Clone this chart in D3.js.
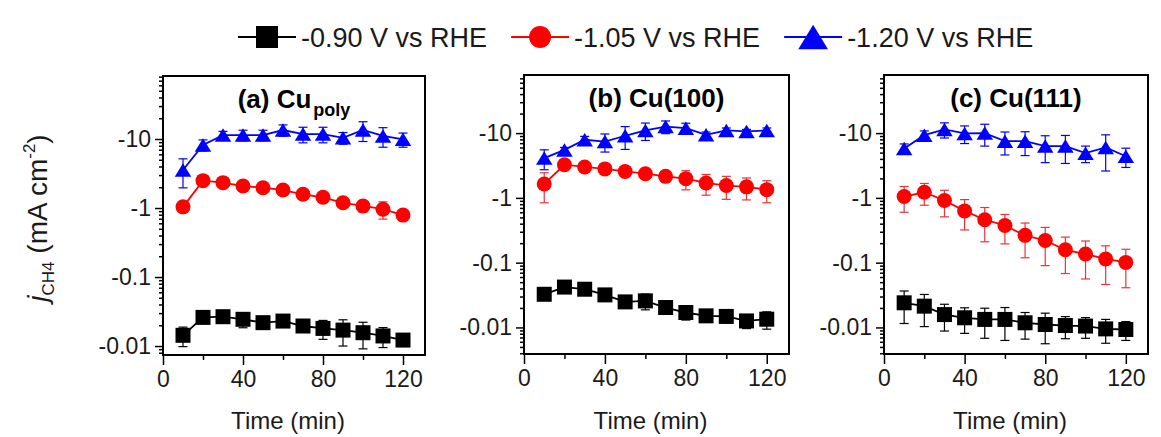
<!DOCTYPE html>
<html>
<head>
<meta charset="utf-8">
<script src="https://cdn.jsdelivr.net/npm/d3@7"></script>
<style>
  body { margin: 0; background: #fff; }
  svg { font-family: "Liberation Sans", Arial, sans-serif; }
</style>
</head>
<body>
<div id="chart"></div>
<script>
// time points (min)
const times = [10, 20, 30, 40, 50, 60, 70, 80, 90, 100, 110, 120];
const potentials = ["-0.90 V vs RHE", "-1.05 V vs RHE", "-1.20 V vs RHE"];
const yTickValues = [0.01, 0.1, 1, 10];
const yTickLabels = ["-0.01", "-0.1", "-1", "-10"];
const xTickValues = [0, 40, 80, 120];

// |j_CH4| in mA cm^-2, and error bars
const polyV090 = [0.0143, 0.026, 0.0266, 0.0244, 0.0218, 0.023, 0.0195, 0.018, 0.017, 0.0156, 0.014, 0.0122];
const polyE090 = [0.0045, 0.002, 0.005, 0.006, 0.003, 0.004, 0.002, 0.0055, 0.007, 0.0065, 0.0045, 0.001];
const polyV105 = [1.04, 2.49, 2.33, 2.08, 1.97, 1.82, 1.58, 1.43, 1.19, 1.07, 0.96, 0.79];
const polyE105 = [0.05, 0.1, 0.1, 0.1, 0.1, 0.1, 0.15, 0.15, 0.15, 0.2, 0.27, 0.05];
const polyV120 = [3.56, 8.2, 11.4, 11.4, 11.4, 13.5, 11.8, 11.8, 10.4, 13.5, 11.1, 9.9];
const polyE120 = [1.6, 1.5, 1.5, 2, 2, 2.5, 3, 3, 2, 4.3, 3.5, 2.3];

const c100V090 = [0.0325, 0.042, 0.0389, 0.0318, 0.0248, 0.0257, 0.0203, 0.017, 0.0151, 0.0148, 0.0126, 0.0134];
const c100E090 = [0.005, 0.003, 0.003, 0.004, 0.004, 0.007, 0.003, 0.004, 0.003, 0.003, 0.003, 0.004];
const c100V105 = [1.64, 3.25, 3.0, 2.8, 2.56, 2.36, 2.15, 1.98, 1.70, 1.55, 1.48, 1.34];
const c100E105 = [0.8, 0.2, 0.15, 0.2, 0.2, 0.2, 0.4, 0.65, 0.6, 0.6, 0.55, 0.5];
const c100V120 = [4.12, 5.5, 7.9, 7.4, 9.1, 11, 12.6, 11.9, 9.4, 11, 10.6, 11];
const c100E120 = [1.4, 0.5, 1, 2.3, 3.5, 3.3, 2.8, 2.3, 1, 1, 0.8, 1];

const c111V090 = [0.024, 0.0213, 0.0158, 0.0141, 0.0133, 0.0133, 0.0118, 0.0111, 0.0107, 0.0105, 0.0095, 0.0093];
const c111E090 = [0.0125, 0.011, 0.007, 0.006, 0.0065, 0.007, 0.0052, 0.0055, 0.004, 0.0037, 0.0038, 0.003];
const c111V105 = [1.05, 1.22, 0.91, 0.63, 0.46, 0.375, 0.264, 0.22, 0.158, 0.136, 0.114, 0.101];
const c111E105 = [0.45, 0.45, 0.4, 0.31, 0.25, 0.18, 0.145, 0.13, 0.09, 0.08, 0.068, 0.06];
const c111V120 = [5.8, 9.3, 11.4, 9.9, 10, 7.5, 7.5, 6.3, 6.3, 4.9, 6.0, 4.4];
const c111E120 = [1, 1.5, 3, 3, 3.7, 2.9, 3, 2.8, 2.9, 1.4, 3.4, 1.45];

const colors = ["#000000", "#ff0000", "#0000ff"];
const errColors = ["#000000", "#e8333a", "#0000ee"];
const shapes = ["square", "circle", "triangle"];

const panels = [
  { title: "(a) Cu", sub: "poly", left: 163, width: 262, top: 76, bottom: 355, yDom: [Math.pow(10, -2.13), Math.pow(10, 1.913)],
    series: [[polyV090, polyE090], [polyV105, polyE105], [polyV120, polyE120]] },
  { title: "(b) Cu(100)", sub: "", left: 524, width: 265, top: 75, bottom: 354, yDom: [Math.pow(10, -2.41), Math.pow(10, 1.897)],
    series: [[c100V090, c100E090], [c100V105, c100E105], [c100V120, c100E120]] },
  { title: "(c) Cu(111)", sub: "", left: 884, width: 264, top: 75, bottom: 354, yDom: [Math.pow(10, -2.41), Math.pow(10, 1.897)],
    series: [[c111V090, c111E090], [c111V105, c111E105], [c111V120, c111E120]] }
];

const W = 1161, H = 437;
const svg = d3.select("#chart").append("svg").attr("width", W).attr("height", H);

function marker(g, shape, cx, cy, s, color) {
  if (shape === "square") {
    g.append("rect").attr("x", cx - s / 2).attr("y", cy - s / 2)
      .attr("width", s).attr("height", s).attr("fill", color);
  } else if (shape === "circle") {
    g.append("circle").attr("cx", cx).attr("cy", cy).attr("r", s / 2).attr("fill", color);
  } else {
    const w = s * 1.1, h = s * 0.9;
    g.append("path")
      .attr("d", `M${cx - w / 2},${cy + h / 2}L${cx},${cy - h / 2}L${cx + w / 2},${cy + h / 2}Z`)
      .attr("fill", color);
  }
}

panels.forEach(function(p) {
  const x = d3.scaleLinear().domain([0, 131]).range([p.left, p.left + p.width]);
  const y = d3.scaleLog().domain(p.yDom).range([p.bottom, p.top]);
  const g = svg.append("g");

  // minor log ticks
  const minor = [];
  for (let k = -3; k <= 1; k++) {
    for (let m = 2; m <= 9; m++) {
      const v = m * Math.pow(10, k);
      if (v >= p.yDom[0] && v <= p.yDom[1]) minor.push(v);
    }
  }
  const yMinor = g.append("g").attr("transform", `translate(${p.left},0)`)
    .call(d3.axisLeft(y).tickValues(minor).tickSize(4).tickFormat(""));
  const yAxis = g.append("g").attr("transform", `translate(${p.left},0)`)
    .call(d3.axisLeft(y).tickValues(yTickValues).tickSize(8).tickPadding(4)
      .tickFormat((d, i) => yTickLabels[i]));
  const xMinor = g.append("g").attr("transform", `translate(0,${p.bottom})`)
    .call(d3.axisBottom(x).tickValues([20, 60, 100]).tickSize(5).tickFormat(""));
  const xAxis = g.append("g").attr("transform", `translate(0,${p.bottom})`)
    .call(d3.axisBottom(x).tickValues(xTickValues).tickSize(10).tickPadding(6));
  [yMinor, yAxis, xMinor, xAxis].forEach(a => {
    a.select(".domain").remove();
    a.selectAll("line").attr("stroke", "#000").attr("stroke-width", 1.5);
    a.selectAll("text").attr("font-size", 23).attr("fill", "#1a1a1a").attr("font-family", "Liberation Sans, Arial, sans-serif");
  });

  g.append("rect").attr("x", p.left).attr("y", p.top)
    .attr("width", p.width).attr("height", p.bottom - p.top)
    .attr("fill", "none").attr("stroke", "#000").attr("stroke-width", 2);

  // title
  const t = g.append("text").attr("x", p.left + p.width / 2).attr("y", p.top + 32)
    .attr("text-anchor", "middle").attr("font-weight", "bold").attr("font-size", 26);
  t.append("tspan").text(p.title);
  if (p.sub) t.append("tspan").attr("font-size", 18).attr("dy", 8).attr("dx", 2).text(p.sub);

  g.append("text").attr("x", p.left + p.width / 2 - 6).attr("y", 429)
    .attr("text-anchor", "middle").attr("font-size", 24).attr("fill", "#1a1a1a").text("Time (min)");

  p.series.forEach(function(s, si) {
    const vals = s[0], errs = s[1];
    const pts = times.map((tm, i) => ({ t: tm, v: vals[i], e: errs[i] }));
    const sg = g.append("g");
    // error bars
    pts.forEach(function(d) {
      const y1 = y(d.v + d.e), y2 = y(d.v - d.e), cx = x(d.t);
      sg.append("line").attr("x1", cx).attr("x2", cx).attr("y1", y1).attr("y2", y2)
        .attr("stroke", errColors[si]).attr("stroke-width", 1.2);
      [y1, y2].forEach(yy => sg.append("line").attr("x1", cx - 4.5).attr("x2", cx + 4.5)
        .attr("y1", yy).attr("y2", yy).attr("stroke", errColors[si]).attr("stroke-width", 1.2));
    });
    sg.append("path")
      .attr("d", d3.line().x(d => x(d.t)).y(d => y(d.v))(pts))
      .attr("fill", "none").attr("stroke", colors[si]).attr("stroke-width", 1.8);
    pts.forEach(d => marker(sg, shapes[si], x(d.t), y(d.v), 15, colors[si]));
  });
});

// y axis title
const yt = svg.append("text").attr("transform", "translate(47,218) rotate(-90)")
  .attr("text-anchor", "middle").attr("font-size", 28).attr("fill", "#1a1a1a");
yt.append("tspan").attr("font-style", "italic").text("j");
yt.append("tspan").attr("font-size", 17).attr("dy", 7).text("CH4");
yt.append("tspan").attr("dy", -7).text(" (mA cm");
yt.append("tspan").attr("font-size", 17).attr("dy", -12).text("-2");
yt.append("tspan").attr("dy", 12).text(")");

// legend
const leg = svg.append("g");
let lx = 238;
const ly = 37;
potentials.forEach(function(name, i) {
  leg.append("line").attr("x1", lx).attr("x2", lx + 58).attr("y1", ly).attr("y2", ly)
    .attr("stroke", colors[i]).attr("stroke-width", 2);
  marker(leg, shapes[i], lx + 29, ly, i === 2 ? 27 : 22, colors[i]);
  const tx = leg.append("text").attr("x", lx + 63).attr("y", ly + 9.5)
    .attr("font-size", 27).attr("fill", "#1a1a1a").text(name);
  lx += 63 + tx.node().getComputedTextLength() + 24;
});
</script>
</body>
</html>
